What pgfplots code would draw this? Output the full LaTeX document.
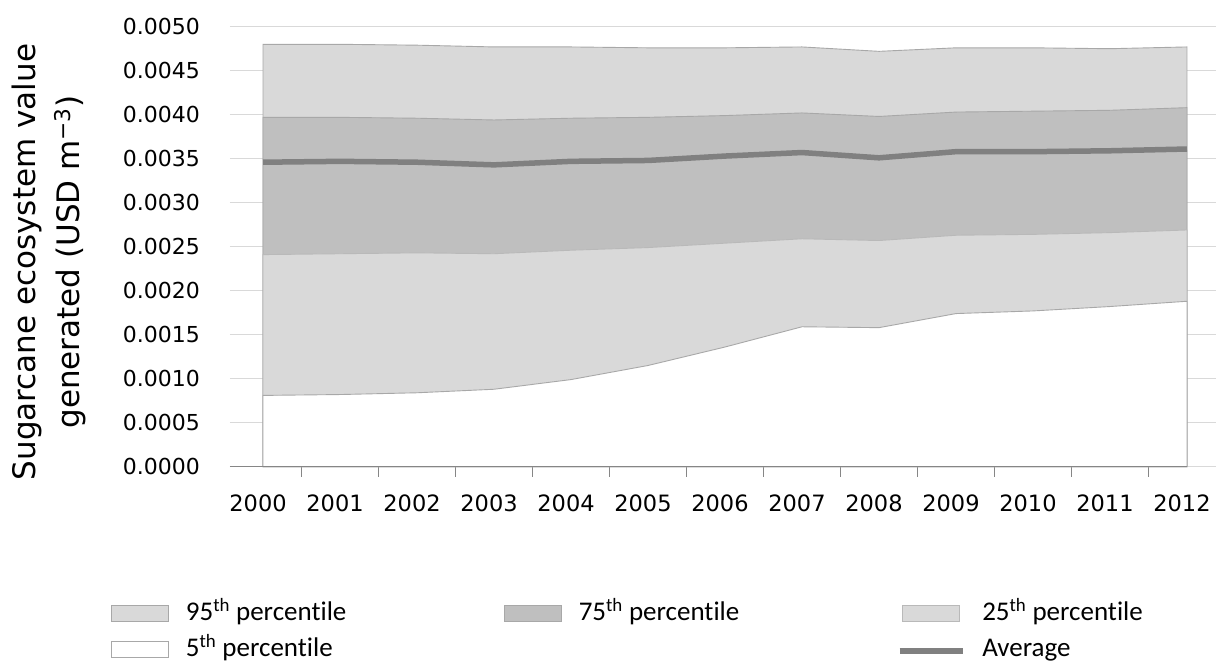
\documentclass[border=0pt]{standalone}
\usepackage{pgfplots}
\pgfplotsset{compat=1.18}
\usepackage{fontspec}
\setmainfont{DejaVu Sans}
\newfontfamily\legfont[Ligatures=NoCommon]{Carlito}
\definecolor{c95}{HTML}{D9D9D9}
\definecolor{c75}{HTML}{BFBFBF}
\definecolor{c25}{HTML}{D9D9D9}
\definecolor{cavg}{HTML}{808080}
\definecolor{cgrid}{HTML}{D9D9D9}
\definecolor{cedge}{HTML}{A8A8A8}
\definecolor{caxis}{HTML}{868686}
\pgfplotsset{
  myarea/.style={legend image code/.code={\draw[##1] (0pt,0pt) rectangle (57pt,16pt);}},
  myline/.style={legend image code/.code={\draw[##1] (-3pt,6pt) -- (60pt,6pt);}},
}
\begin{document}
\begin{tikzpicture}
\useasboundingbox (-230pt,-199.3pt) rectangle (986pt,466.7pt);
\begin{axis}[
  scale only axis, width=986pt, height=440pt,
  xmin=1999.571, xmax=2012.377, ymin=0, ymax=0.005,
  clip=false,
  axis line style={draw=none},
  tick pos=left,
  ymajorgrids, grid style={cgrid, line width=1.5pt},
  ytick={0,0.0005,0.001,0.0015,0.002,0.0025,0.003,0.0035,0.004,0.0045,0.005},
  ytick style={draw=none},
  xtick={2000,2001,2002,2003,2004,2005,2006,2007,2008,2009,2010,2011,2012},
  xticklabels={2000,2001,2002,2003,2004,2005,2006,2007,2008,2009,2010,2011,2012},
  major tick length=0pt,
  minor xtick={2000.5,2001.5,2002.5,2003.5,2004.5,2005.5,2006.5,2007.5,2008.5,2009.5,2010.5,2011.5},
  minor tick length=10pt, tick align=outside,
  minor x tick style={caxis, line width=1.2pt},
  xticklabel style={font=\fontsize{22.5}{26}\selectfont, anchor=north, inner sep=0pt, yshift=-28.3pt, xshift=-5pt},
  scaled y ticks=false,
  yticklabel style={font=\fontsize{22}{26}\selectfont, anchor=east, inner sep=0pt, xshift=-30pt,
    /pgf/number format/.cd, fixed, fixed zerofill, precision=4, assume math mode=true},
  ylabel={Sugarcane ecosystem value\\generated (USD m\textsuperscript{−3})},
  ylabel style={at={(rel axis cs:-0.1836,0.465)}, anchor=center, align=center, font=\fontsize{31}{44}\selectfont},
  legend columns=3,
  legend style={at={(rel axis cs:-0.1207,-0.3075)}, anchor=north west, draw=none, fill=none,
    inner sep=0pt, outer sep=0pt, column sep=17pt, row sep=11pt,
    font=\legfont\fontsize{27}{32}\selectfont,
    nodes={inner sep=0pt, text height=19pt, text depth=6pt, anchor=base west}},
]
\addplot[fill=c95, draw=cedge, line width=0.9pt, myarea] coordinates {
(2000,0.00480) (2001,0.00480) (2002,0.00479) (2003,0.00477) (2004,0.00477) (2005,0.00476) (2006,0.00476)
(2007,0.00477) (2008,0.00472) (2009,0.00476) (2010,0.00476) (2011,0.00475) (2012,0.00477)} \closedcycle;
\addlegendentry{\makebox[301pt][l]{95\textsuperscript{th} percentile}}
\addplot[fill=c75, draw=cedge, line width=0.9pt, myarea] coordinates {
(2000,0.00397) (2001,0.00397) (2002,0.00396) (2003,0.00394) (2004,0.00396) (2005,0.00397) (2006,0.00399)
(2007,0.00402) (2008,0.00398) (2009,0.00403) (2010,0.00404) (2011,0.00405) (2012,0.00408)} \closedcycle;
\addlegendentry{\makebox[301pt][l]{75\textsuperscript{th} percentile}}
\addplot[fill=c25, draw=cedge!80, line width=0.9pt, myarea] coordinates {
(2000,0.00241) (2001,0.00242) (2002,0.00243) (2003,0.00242) (2004,0.00246) (2005,0.00249) (2006,0.00254)
(2007,0.00259) (2008,0.00257) (2009,0.00263) (2010,0.00264) (2011,0.00266) (2012,0.00269)} \closedcycle;
\addlegendentry{25\textsuperscript{th} percentile}
\addplot[fill=white, draw=cedge, line width=0.9pt, myarea] coordinates {
(2000,0.00081) (2001,0.00082) (2002,0.00084) (2003,0.00088) (2004,0.00099) (2005,0.00115) (2006,0.00136)
(2007,0.00159) (2008,0.00158) (2009,0.00174) (2010,0.00177) (2011,0.00182) (2012,0.00188)} \closedcycle;
\addlegendentry{\makebox[301pt][l]{5\textsuperscript{th} percentile}}
\addlegendimage{empty legend}
\addlegendentry{}
\addplot[cavg, line width=5.5pt, myline] coordinates {
(2000,0.00346) (2001,0.00347) (2002,0.00346) (2003,0.00343) (2004,0.00347) (2005,0.00348) (2006,0.00353)
(2007,0.00357) (2008,0.00351) (2009,0.00358) (2010,0.00358) (2011,0.00359) (2012,0.00361)};
\addlegendentry{Average}
\addplot[caxis, line width=1.5pt, forget plot] coordinates {(1999.571,0) (2012,0)};
\end{axis}
\end{tikzpicture}
\end{document}
